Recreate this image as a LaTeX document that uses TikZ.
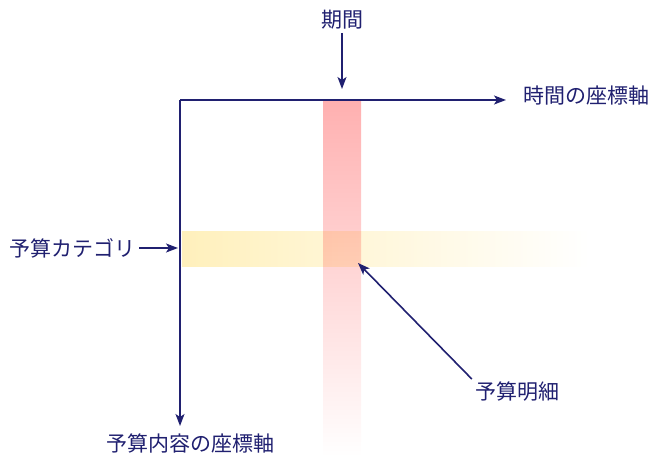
\documentclass[tikz,border=0pt]{standalone}
\usepackage{fontspec}
\setmainfont{Noto Sans CJK JP}
\usetikzlibrary{positioning, arrows.meta}

\definecolor{navy}{RGB}{32,32,112}
\definecolor{bandred}{RGB}{255,176,176}
\definecolor{bandyellow}{RGB}{255,240,188}

\begin{document}
\begin{tikzpicture}[x=1pt,y=1pt]
\tikzset{axe/.style={->,>={Stealth[length=12pt,width=9pt,inset=3pt]},draw=navy,line width=1.6pt},
  lbl/.style={text=navy,inner sep=3pt,font=\fontsize{21}{24}\selectfont}}
\useasboundingbox (0,0) rectangle (658,457);

% les bandes
\shade[left color=bandyellow,right color=white] (182,190) rectangle (590,225);
\shade[top color=bandred,bottom color=white,blend mode=multiply] (323,0) rectangle (361,357);

% les axes
\coordinate (O) at (180,357);
\coordinate (xend) at (506,357);
\coordinate (yend) at (180,31);
\draw[axe] (O) -- (xend);
\draw[axe] (O) -- (yend);

\node[lbl,anchor=west] (taxis) at (520,361) {時間の座標軸};
\node[lbl] (caxis) at (190,14) {予算内容の座標軸};

% les labels
\node[lbl] (kikan) at (342,437) {期間};
\coordinate (ktop) at (342,368);
\draw[axe] (kikan) -- (ktop);

\node[lbl,anchor=east] (cat) at (139,209) {予算カテゴリ};
\coordinate (cend) at (178,209);
\draw[axe] (cat) -- (cend);

\node[lbl] (meisai) at (517,65) {予算明細};
\coordinate (cell) at (358,194);
\draw[axe] (meisai.north west) -- (cell);
\end{tikzpicture}
\end{document}
